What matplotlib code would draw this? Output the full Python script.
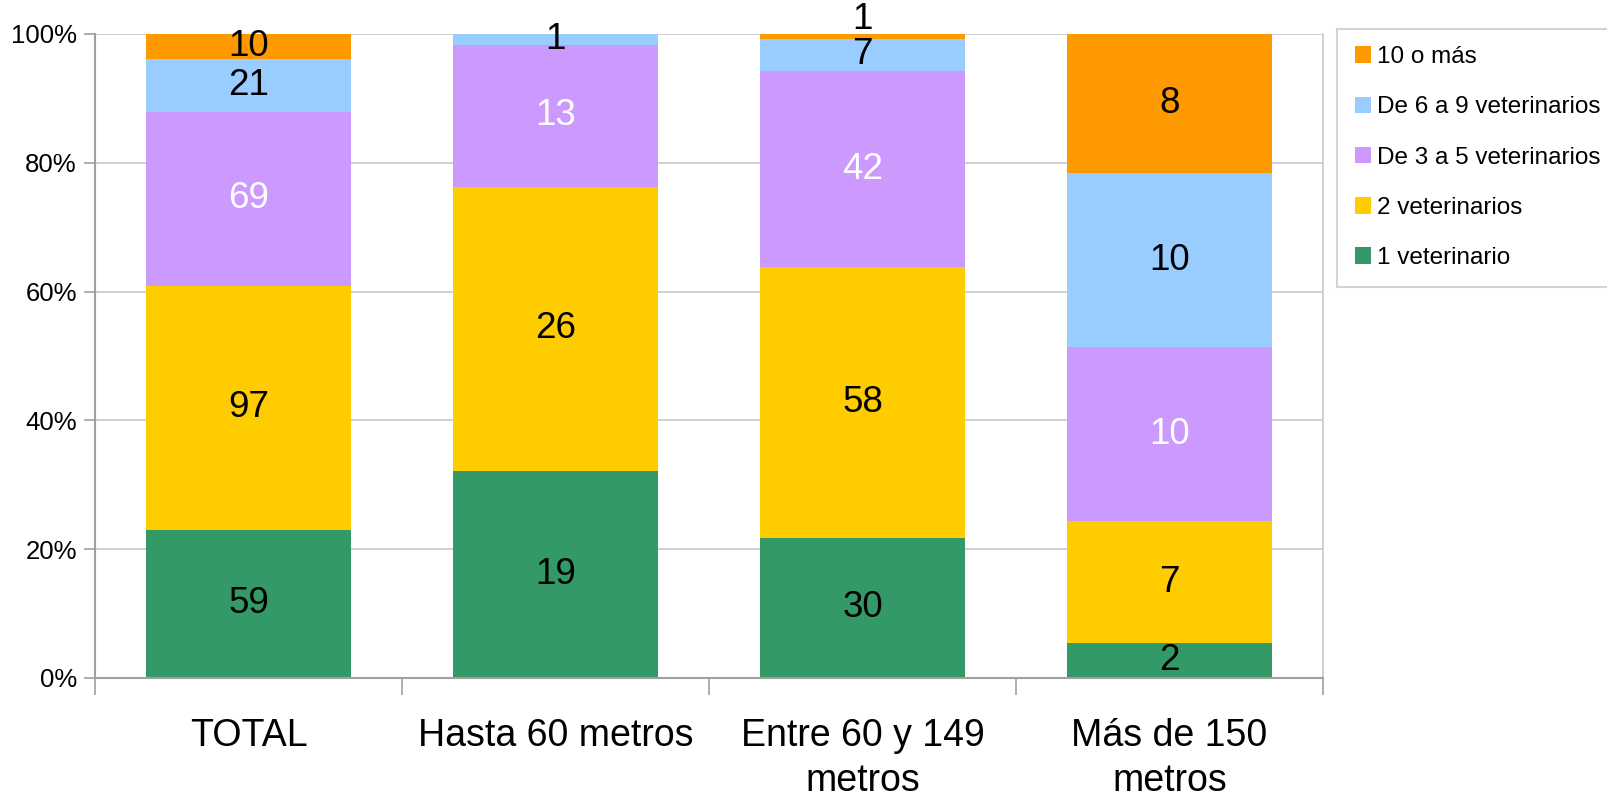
import matplotlib
matplotlib.use('Agg')
import matplotlib.pyplot as plt
import numpy as np

plt.rcParams["font.family"] = ["Liberation Sans", "DejaVu Sans"]

# datos
categorias = ['TOTAL', 'Hasta 60 metros', 'Entre 60 y 149\nmetros', 'Más de 150\nmetros']
series = ['1 veterinario', '2 veterinarios', 'De 3 a 5 veterinarios',
          'De 6 a 9 veterinarios', '10 o más']
uno = [59, 19, 30, 2]
dos = [97, 26, 58, 7]
tres_cinco = [69, 13, 42, 10]
seis_nueve = [21, 1, 7, 10]
diez_mas = [10, 0, 1, 8]

colores = ['#339966', '#FFCC00', '#CC99FF', '#99CCFF', '#FF9900']
color_texto = ['black', 'black', 'white', 'black', 'black']

valores = np.array([uno, dos, tres_cinco, seis_nueve, diez_mas], dtype=float)
totales = valores.sum(axis=0)
pct = valores / totales * 100

fig = plt.figure(figsize=(16.08, 7.98), dpi=100)
ax = fig.add_axes([0.0591, 0.1504, 0.7637, 0.807])

x = np.arange(len(categorias))
base = np.zeros(len(categorias))
for i, nombre in enumerate(series):
    ax.bar(x, pct[i], bottom=base, width=0.67, color=colores[i], label=nombre, zorder=2)
    for j in range(len(categorias)):
        if valores[i, j] > 0:
            y = base[j] + pct[i, j] / 2
            # etiquetas muy finas arriba: se empujan hacia fuera como en Excel
            if pct[i, j] < 1:
                y = 102.3
            ax.text(x[j], y, f'{int(valores[i, j])}', ha='center', va='center',
                    fontsize=26.5, color=color_texto[i], zorder=3, clip_on=False)
    base += pct[i]

ax.set_xlim(-0.5, 3.5)
ax.set_ylim(0, 100)
ax.set_yticks(np.arange(0, 101, 20))
ax.set_yticklabels([f'{v}%' for v in range(0, 101, 20)], fontsize=18.5)
ax.yaxis.grid(True, color='#c8c8c8', lw=1.2, zorder=0)
ax.set_axisbelow(True)

ax.set_xticks(x)
ax.set_xticklabels(categorias, fontsize=27, linespacing=1.3)
ax.tick_params(axis='x', length=0, pad=29)
ax.set_xticks(np.arange(-0.5, 4, 1), minor=True)
ax.tick_params(axis='x', which='minor', length=12, color='#a0a0a0', width=1.2)
ax.tick_params(axis='y', length=8, color='#a0a0a0', width=1.2, pad=5)

for lado in ['left', 'bottom']:
    ax.spines[lado].set_color('#a0a0a0')
    ax.spines[lado].set_linewidth(1.5)
ax.spines['right'].set_color('#c8c8c8')
ax.spines['right'].set_linewidth(1.2)
ax.spines['top'].set_visible(False)

handles, labels = ax.get_legend_handles_labels()
leg = fig.legend(handles[::-1], labels[::-1], loc='upper left',
                 bbox_to_anchor=(0.8317, 0.964), fontsize=17.5, frameon=True,
                 fancybox=False, edgecolor='#c8c8c8', handlelength=0.67,
                 handleheight=0.67, handletextpad=0.25, labelspacing=1.16,
                 borderpad=0.72, borderaxespad=0)
leg.get_frame().set_linewidth(1.5)

plt.savefig('out.png', dpi=100)
